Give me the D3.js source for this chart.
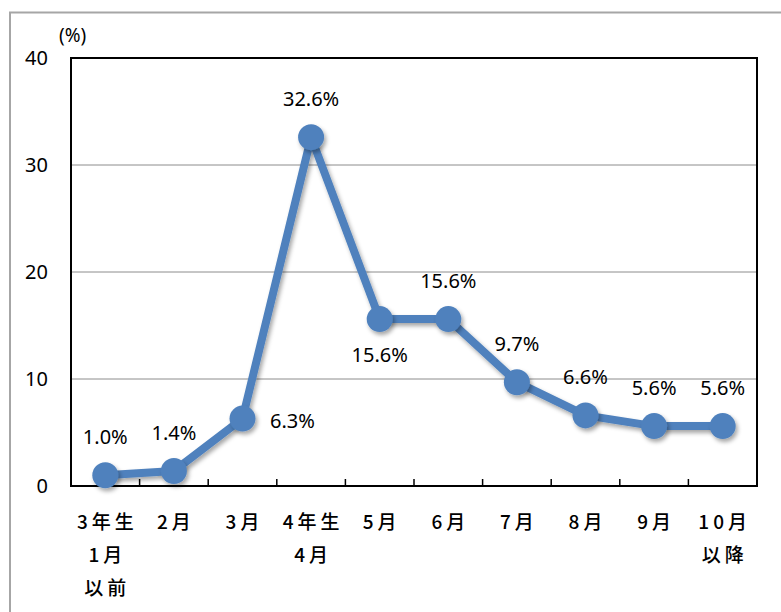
<!DOCTYPE html>
<html>
<head>
<meta charset="utf-8">
<script src="https://cdn.jsdelivr.net/npm/d3@7"></script>
<style>
  html, body { margin: 0; padding: 0; background: #fff; }
  svg { display: block; }
</style>
</head>
<body>
<svg id="chart" width="781" height="612"></svg>
<script>
// categories (multi-line tick labels)
const categories = [
  ["3年生", "1月", "以前"],
  ["2月"],
  ["3月"],
  ["4年生", "4月"],
  ["5月"],
  ["6月"],
  ["7月"],
  ["8月"],
  ["9月"],
  ["10月", "以降"]
];
const values = [1.0, 1.4, 6.3, 32.6, 15.6, 15.6, 9.7, 6.6, 5.6, 5.6];
// where each value label sits relative to its point
const labelPos = ["above", "above", "right", "above", "below", "above", "above", "above", "above", "above"];
const yTicks = [0, 10, 20, 30, 40];

const W = 781, H = 612;
const margin = { top: 58, right: 24, bottom: 126, left: 71 };
const LINE = "#4F81BD";
const FONT = "'Noto Sans', 'Open Sans', sans-serif";
const JP = "'Noto Sans CJK JP', 'Noto Sans', sans-serif";

const svg = d3.select("#chart");

const defs = svg.append("defs");
const f = defs.append("filter").attr("id", "shadow")
  .attr("x", "-50%").attr("y", "-50%").attr("width", "200%").attr("height", "200%");
f.append("feDropShadow")
  .attr("dx", 2).attr("dy", 3).attr("stdDeviation", 2)
  .attr("flood-color", "#000").attr("flood-opacity", 0.35);

// outer chart frame (cut off at right/bottom)
svg.append("rect")
  .attr("x", 10).attr("y", 12.5)
  .attr("width", W + 20).attr("height", H + 20)
  .attr("fill", "none")
  .attr("stroke", "#a6a6a6")
  .attr("stroke-width", 2);

const x = d3.scaleBand()
  .domain(d3.range(categories.length))
  .range([margin.left, W - margin.right])
  .padding(0);

const y = d3.scaleLinear()
  .domain([0, 40])
  .range([H - margin.bottom, margin.top]);

const x0 = margin.left, x1 = W - margin.right;
const y0 = y(0), y1 = y(40);

// gridlines
svg.append("g")
  .selectAll("line")
  .data(yTicks.filter(d => d > 0 && d < 40))
  .join("line")
  .attr("x1", x0).attr("x2", x1)
  .attr("y1", d => y(d)).attr("y2", d => y(d))
  .attr("stroke", "#8c8c8c")
  .attr("stroke-width", 1);

// plot frame
svg.append("rect")
  .attr("x", x0).attr("y", y1)
  .attr("width", x1 - x0).attr("height", y0 - y1)
  .attr("fill", "none")
  .attr("stroke", "#000")
  .attr("stroke-width", 2);

// x ticks (inward) at category boundaries
svg.append("g")
  .selectAll("line")
  .data(d3.range(1, categories.length))
  .join("line")
  .attr("x1", d => x(d)).attr("x2", d => x(d))
  .attr("y1", y0).attr("y2", y0 - 7)
  .attr("stroke", "#000")
  .attr("stroke-width", 1.5);

// y tick labels
svg.append("g")
  .selectAll("text")
  .data(yTicks)
  .join("text")
  .attr("x", 48)
  .attr("y", d => y(d))
  .attr("dy", "0.35em")
  .attr("text-anchor", "end")
  .attr("font-family", FONT)
  .attr("font-size", 20)
  .attr("fill", "#000")
  .text(d => d);

svg.append("text")
  .attr("x", 59).attr("y", 42)
  .attr("font-family", FONT)
  .attr("font-size", 19)
  .attr("fill", "#000")
  .text("(%)");

// x labels
const xl = svg.append("g")
  .selectAll("text")
  .data(categories)
  .join("text")
  .attr("text-anchor", "middle")
  .attr("font-family", JP)
  .attr("font-size", 19)
  .attr("font-weight", 500)
  .attr("letter-spacing", 4)
  .attr("fill", "#000");
xl.selectAll("tspan")
  .data((d, i) => d.map(s => ({ s, i })))
  .join("tspan")
  .attr("x", d => x(d.i) + x.bandwidth() / 2 + 2)
  .attr("y", (d, j) => 529 + j * 33)
  .text(d => d.s);

// line
const cx = i => x(i) + x.bandwidth() / 2;
const line = d3.line()
  .x((d, i) => cx(i))
  .y(d => y(d));

svg.append("path")
  .datum(values)
  .attr("d", line)
  .attr("fill", "none")
  .attr("stroke", LINE)
  .attr("stroke-width", 8)
  .attr("stroke-linejoin", "round")
  .attr("filter", "url(#shadow)");

svg.append("g")
  .selectAll("circle")
  .data(values)
  .join("circle")
  .attr("cx", (d, i) => cx(i))
  .attr("cy", d => y(d))
  .attr("r", 13)
  .attr("fill", LINE)
  .attr("filter", "url(#shadow)");

// value labels
svg.append("g")
  .selectAll("text")
  .data(values)
  .join("text")
  .attr("x", (d, i) => labelPos[i] === "right" ? cx(i) + 50 : cx(i))
  .attr("y", (d, i) => {
    const p = labelPos[i];
    if (p === "above") return y(d) - 38;
    if (p === "below") return y(d) + 36;
    return y(d) + 2;
  })
  .attr("dy", "0.35em")
  .attr("text-anchor", "middle")
  .attr("font-family", FONT)
  .attr("font-size", 20)
  .attr("fill", "#000")
  .text(d => d.toFixed(1) + "%");
</script>
</body>
</html>
